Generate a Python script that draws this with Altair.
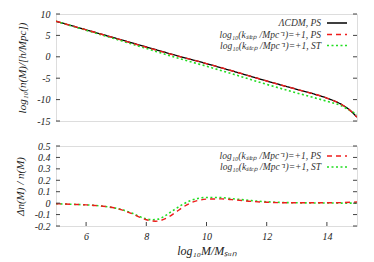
import altair as alt
import pandas as pd

# ---------------- data ----------------
top_x = [5, 6, 7, 8, 9, 10, 11, 12, 13, 13.5, 14, 14.5, 14.75, 15]
top_lcdm_ps = [8.3, 6.3, 4.3, 2.3, 0.3, -1.6, -3.6, -5.65, -7.6, -8.55, -9.65, -11.2, -12.4, -14.1]
top_step_ps = [8.3, 6.3, 4.29, 2.24, 0.27, -1.58, -3.59, -5.65, -7.6, -8.55, -9.65, -11.2, -12.4, -14.1]
top_step_st = [8.3, 6.2, 4.1, 1.95, -0.2, -2.2, -4.3, -6.45, -8.45, -9.4, -10.4, -11.5, -12.5, -13.4]

bot_x_ps = [5.0, 5.5, 6.0, 6.5, 7.0, 7.5, 7.8, 8.0, 8.3, 8.5, 8.75, 9.0, 9.25, 9.5, 9.75,
            10.0, 10.5, 11.0, 11.5, 12.0, 12.5, 13.0, 14.0, 14.5, 15.0]
bot_ps = [-0.005, -0.01, -0.015, -0.025, -0.045, -0.09, -0.125, -0.145, -0.158, -0.15, -0.12,
          -0.075, -0.03, 0.005, 0.025, 0.035, 0.037, 0.027, 0.015, 0.008, 0.004, 0.003, 0.003,
          0.005, 0.01]
bot_x_st = [5.0, 5.5, 6.0, 6.5, 7.0, 7.5, 7.8, 8.0, 8.2, 8.4, 8.6, 8.8, 9.0, 9.25, 9.5, 9.75,
            10.0, 10.5, 11.0, 11.5, 12.0, 12.5, 13.0, 14.0, 15.0]
bot_st = [-0.005, -0.01, -0.015, -0.025, -0.045, -0.085, -0.12, -0.138, -0.145, -0.14, -0.115,
          -0.08, -0.045, -0.005, 0.025, 0.043, 0.05, 0.048, 0.035, 0.022, 0.012, 0.006, 0.003,
          0.001, 0.0]

top_yticks = [-15, -10, -5, 0, 5, 10]
bot_yticks = [-0.2, -0.1, 0, 0.1, 0.2, 0.3, 0.4, 0.5]
bot_xticks = [6, 8, 10, 12, 14]

lab_lcdm = "ΛCDM, PS"
lab_ps = "log₁₀(kₛₜₑₚ /Mpc⁻¹)=+1, PS"
lab_st = "log₁₀(kₛₜₑₚ /Mpc⁻¹)=+1, ST"

# ---------------- styling ----------------
W, HT, HB = 301, 107, 80
FONT = "Liberation Serif"
COL = {"lcdm": "#000000", "ps": "#ee1c1c", "st": "#22dd22"}
DASH = {"lcdm": [1, 0], "ps": [5, 4], "st": [2, 2.5]}
SW = {"lcdm": 1.3, "ps": 1.4, "st": 1.6}
TK = 4
XS = alt.Scale(domain=[5, 15], nice=False, zero=False)
LBL = "datum.value == 0 ? '0' : replace(datum.label, '−', '-')"


def yaxis(vals, title):
    return alt.Axis(values=vals, ticks=False, domain=False, grid=False, labelFont=FONT,
                    labelFontStyle="italic", labelFontSize=10, labelColor="#222",
                    labelPadding=6, labelOverlap=False, labelFlush=False,
                    labelExpr=LBL,
                    title=title, titleFont=FONT, titleFontStyle="italic",
                    titleFontWeight="normal", titleFontSize=11, titleColor="#222",
                    titlePadding=9)


XAX_BOT = alt.Axis(values=bot_xticks, ticks=False, domain=False, grid=False,
                   labelFont=FONT, labelFontStyle="italic", labelFontSize=10,
                   labelColor="#222", labelPadding=5, labelOverlap=False,
                   labelFlush=False,
                   title="log₁₀M/Mₛᵤₙ", titleFont=FONT, titleFontStyle="italic",
                   titleFontWeight="normal", titleFontSize=12, titleColor="#222",
                   titlePadding=4)


def line(df, key, yscale, yax, xax):
    return alt.Chart(df).mark_line(color=COL[key], strokeDash=DASH[key], strokeWidth=SW[key],
                                   interpolate="monotone", clip=True).encode(
        x=alt.X("x:Q", scale=XS, axis=xax),
        y=alt.Y("y:Q", scale=yscale, axis=yax),
    )


def legend(entries, ys):
    layers = []
    for (lab, key), yy in zip(entries, ys):
        d = pd.DataFrame({"t": [lab]})
        layers.append(alt.Chart(d).mark_text(align="right", baseline="middle", font=FONT,
                                             fontStyle="italic", fontSize=9.5, color="#333").encode(
            text="t:N", x=alt.value(265), y=alt.value(yy)))
        layers.append(alt.Chart(d).mark_rule(color=COL[key], strokeDash=DASH[key],
                                             strokeWidth=SW[key]).encode(
            x=alt.value(271), x2=alt.value(291), y=alt.value(yy)))
    return layers


def yticks(vals, yscale, yax):
    d = pd.DataFrame({"v": vals})
    left = alt.Chart(d).mark_rule(color="#444", strokeWidth=1).encode(
        y=alt.Y("v:Q", scale=yscale, axis=yax), x=alt.value(0), x2=alt.value(TK))
    right = alt.Chart(d).mark_rule(color="#444", strokeWidth=1).encode(
        y=alt.Y("v:Q", scale=yscale, axis=yax), x=alt.value(W - TK), x2=alt.value(W))
    return [left, right]


# ---------------- top panel ----------------
ys_top = alt.Scale(domain=[-15, 10], nice=False, zero=False)
yax_top = yaxis(top_yticks, "log₁₀(n(M)/[h/Mpc])")
df_l = pd.DataFrame({"x": top_x, "y": top_lcdm_ps})
df_p = pd.DataFrame({"x": top_x, "y": top_step_ps})
df_s = pd.DataFrame({"x": top_x, "y": top_step_st})

top = alt.layer(
    line(df_l, "lcdm", ys_top, yax_top, None),
    line(df_s, "st", ys_top, yax_top, None),
    line(df_p, "ps", ys_top, yax_top, None),
    *yticks(top_yticks, ys_top, yax_top),
    *legend([(lab_lcdm, "lcdm"), (lab_ps, "ps"), (lab_st, "st")], [9, 20.5, 31.5]),
).properties(width=W, height=HT)

# ---------------- bottom panel ----------------
ys_bot = alt.Scale(domain=[-0.2, 0.5], nice=False, zero=False)
yax_bot = yaxis(bot_yticks, "Δn(M) / n(M)")
df_bp = pd.DataFrame({"x": bot_x_ps, "y": bot_ps})
df_bs = pd.DataFrame({"x": bot_x_st, "y": bot_st})

d_xt = pd.DataFrame({"v": bot_xticks})
xt = alt.Chart(d_xt).mark_rule(color="#444", strokeWidth=1).encode(
    x=alt.X("v:Q", scale=XS, axis=XAX_BOT), y=alt.value(HB - TK), y2=alt.value(HB))

bottom = alt.layer(
    line(df_bs, "st", ys_bot, yax_bot, XAX_BOT),
    line(df_bp, "ps", ys_bot, yax_bot, XAX_BOT),
    *yticks(bot_yticks, ys_bot, yax_bot),
    xt,
    *legend([(lab_ps, "ps"), (lab_st, "st")], [10, 21]),
).properties(width=W, height=HB)

chart = alt.vconcat(top, bottom, spacing=13).properties(
    padding={"left": 5, "top": 0, "right": 5, "bottom": 2}
).configure_view(stroke="#444", strokeWidth=1).configure(background="white")

chart.save("out.html", embed_options={"renderer": "svg", "actions": False})
